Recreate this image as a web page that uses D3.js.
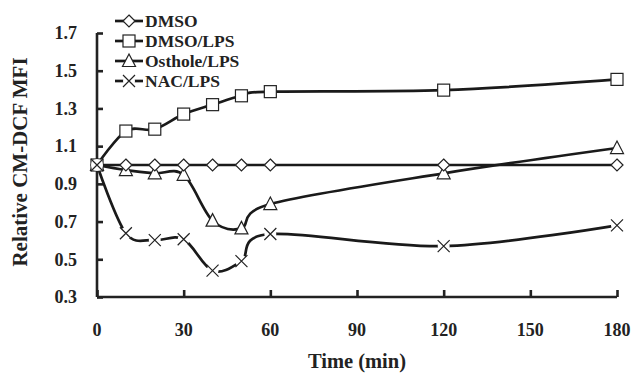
<!DOCTYPE html>
<html>
<head>
<style>
	body { margin: 0; background: #fff; }
	text { font-family: "Liberation Serif", "Times New Roman", serif; font-weight: bold; fill: #222; }
</style>
</head>
<body>
<svg id="chart" width="635" height="375"></svg>
<script src="https://cdn.jsdelivr.net/npm/d3@7"></script>
<script>
var times = [0, 10, 20, 30, 40, 50, 60, 120, 180];
var dmso = [1.0, 1.0, 1.0, 1.0, 1.0, 1.0, 1.0, 1.0, 1.0];
var dmsoLps = [1.0, 1.18, 1.19, 1.27, 1.32, 1.367, 1.389, 1.397, 1.454];
var ostholeLps = [1.0, 0.973, 0.956, 0.948, 0.705, 0.664, 0.793, 0.956, 1.09];
var nacLps = [1.0, 0.638, 0.602, 0.606, 0.44, 0.49, 0.634, 0.57, 0.68];
var seriesNames = ["DMSO", "DMSO/LPS", "Osthole/LPS", "NAC/LPS"];
var markerKinds = ["diamond", "square", "triangle", "cross"];
var xTicks = [0, 30, 60, 90, 120, 150, 180];
var yTicks = [0.3, 0.5, 0.7, 0.9, 1.1, 1.3, 1.5, 1.7];

var svg = d3.select("#chart");
var x = d3.scaleLinear().domain([0, 180]).range([97, 617]);
var y = d3.scaleLinear().domain([0.3, 1.7]).range([297, 33]);

var series = [dmso, dmsoLps, ostholeLps, nacLps].map(function(vals, i) {
	return { name: seriesNames[i], kind: markerKinds[i], values: vals.map(function(v, j) { return { t: times[j], v: v }; }) };
});

// axes
var yAxis = svg.append("g").attr("transform", "translate(" + x(0) + ",0)")
	.call(d3.axisRight(y).tickValues(yTicks).tickSize(6).tickFormat(""));
var xAxis = svg.append("g").attr("transform", "translate(0," + y(0.3) + ")")
	.call(d3.axisTop(x).tickValues(xTicks).tickSize(7).tickFormat(""));
[xAxis, yAxis].forEach(function(a) {
	a.select(".domain").attr("stroke", "#222").attr("stroke-width", 2.6);
	a.selectAll(".tick line").attr("stroke", "#222").attr("stroke-width", 2.6);
});
yAxis.select(".domain").attr("d", "M0," + y(1.7) + "V" + y(0.3));
xAxis.select(".domain").attr("d", "M" + x(0) + ",0H" + x(180));

svg.append("g").selectAll("text").data(yTicks).join("text")
	.attr("x", 77).attr("y", function(d) { return y(d); }).attr("dy", "0.35em")
	.attr("text-anchor", "end").attr("font-size", 18)
	.text(function(d) { return d.toFixed(1); });
svg.append("g").selectAll("text").data(xTicks).join("text")
	.attr("x", function(d) { return x(d); }).attr("y", 336)
	.attr("text-anchor", "middle").attr("font-size", 18)
	.text(function(d) { return d; });

svg.append("text").attr("x", 357).attr("y", 368).attr("text-anchor", "middle")
	.attr("font-size", 20.5).text("Time (min)");
svg.append("text").attr("transform", "translate(27,162) rotate(-90)").attr("text-anchor", "middle")
	.attr("font-size", 21).text("Relative CM-DCF MFI");

var line = d3.line()
	.x(function(d) { return x(d.t); })
	.y(function(d) { return y(d.v); })
	.curve(d3.curveCatmullRom.alpha(0));

function drawMarker(g, kind) {
	if (kind === "diamond") {
		g.append("path").attr("d", "M0,-6L6,0L0,6L-6,0Z").attr("fill", "#fff").attr("stroke", "#222").attr("stroke-width", 1.2);
	} else if (kind === "square") {
		g.append("rect").attr("x", -6).attr("y", -6).attr("width", 12).attr("height", 12).attr("fill", "#fff").attr("stroke", "#222").attr("stroke-width", 1.2);
	} else if (kind === "triangle") {
		g.append("path").attr("d", "M0,-7L6.5,5.5L-6.5,5.5Z").attr("fill", "#fff").attr("stroke", "#222").attr("stroke-width", 1.2);
	} else {
		g.append("circle").attr("r", 6).attr("fill", "#fff");
		g.append("path").attr("d", "M-6,-6L6,6M-6,6L6,-6").attr("stroke", "#222").attr("stroke-width", 1.2);
	}
}

var lines = svg.append("g");
lines.selectAll("path").data(series).join("path")
	.attr("fill", "none").attr("stroke", "#1a1a1a").attr("stroke-width", 2.7)
	.attr("d", function(d) { return line(d.values); });

// marker drawing order: triangles, squares, diamonds, crosses on top
[2, 1, 0, 3].forEach(function(i) {
	var s = series[i];
	svg.append("g").selectAll("g").data(s.values).join("g")
		.attr("transform", function(d) { return "translate(" + x(d.t) + "," + y(d.v) + ")"; })
		.each(function() { drawMarker(d3.select(this), s.kind); });
});

// legend
var legend = svg.append("g").selectAll("g").data(series).join("g")
	.attr("transform", function(d, i) { return "translate(115," + (21 + i * 20) + ")"; });
legend.append("line").attr("x1", 0).attr("x2", 28).attr("stroke", "#1a1a1a").attr("stroke-width", 2.7);
legend.each(function(d) {
	var g = d3.select(this).append("g").attr("transform", "translate(14,0)");
	drawMarker(g, d.kind);
});
legend.append("text").attr("x", 30).attr("dy", "0.35em").attr("font-size", 17.5)
	.text(function(d) { return d.name; });
</script>
</body>
</html>
